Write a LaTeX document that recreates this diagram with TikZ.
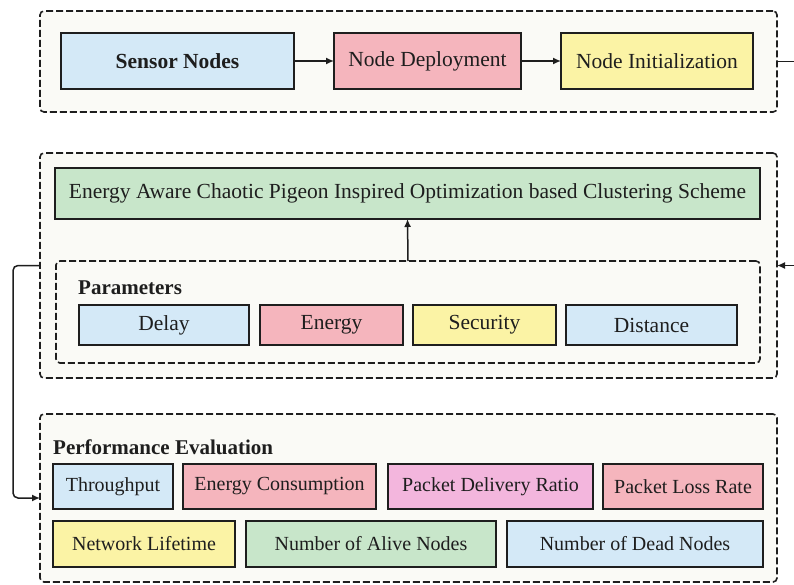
\documentclass[tikz,border=0pt]{standalone}
\usepackage{fontspec}
\setmainfont{Liberation Serif}
\usetikzlibrary{arrows.meta}
\definecolor{cblue}{HTML}{D4E9F7}
\definecolor{cred}{HTML}{F5B5BD}
\definecolor{cyel}{HTML}{FBF3A5}
\definecolor{cgreen}{HTML}{C8E6CA}
\definecolor{cpink}{HTML}{F3B6DD}
\definecolor{cpanel}{HTML}{FAFAF6}
\definecolor{cline}{HTML}{1E1E1E}
\tikzset{
  panel/.style={draw=cline, line width=1.6pt, dash pattern=on 7pt off 3pt, rounded corners=4pt, fill=cpanel, inner sep=0pt, outer sep=0pt},
  box/.style={draw=cline, line width=1.8pt, inner sep=0pt, outer sep=0pt, text=cline, font=\fontsize{21.5}{24}\selectfont},
  sbox/.style={box, font=\fontsize{20}{23}\selectfont},
  head/.style={anchor=west, inner sep=0pt, text=cline, font=\bfseries\fontsize{21}{24}\selectfont},
  conn/.style={draw=cline, line width=1.5pt},
  arr/.style={conn, -{Latex[length=8pt,width=7pt]}}
}
\begin{document}
\begin{tikzpicture}[x=1pt,y=-1pt]
\useasboundingbox (0,0) rectangle (794,584);
\clip (0,0) rectangle (794,584);
\fill[white] (0,0) rectangle (794,584);
% top panel
\node[panel, minimum width=737pt, minimum height=101pt] (toppanel) at (408.5,61.5) {};
\node[box, fill=cblue, minimum width=233pt, minimum height=56pt, font=\bfseries\fontsize{21.5}{24}\selectfont] (sensor) at (177.5,61) {Sensor Nodes};
\node[box, fill=cred, minimum width=187pt, minimum height=56pt] (deploy) at (427.5,61) {Node Deployment};
\node[box, fill=cyel, minimum width=192pt, minimum height=56pt] (init) at (657,61) {Node Initialization};
\draw[arr] (sensor) -- (deploy);
\draw[arr] (deploy) -- (init);
% middle panel
\node[panel, minimum width=737pt, minimum height=225pt] (midpanel) at (408.5,265.5) {};
\node[box, fill=cgreen, minimum width=705pt, minimum height=51pt] (scheme) at (407.5,193.5) {Energy Aware Chaotic Pigeon Inspired Optimization based Clustering Scheme};
\node[panel, minimum width=704pt, minimum height=102pt] (params) at (408,312) {};
\node[head] (paramtitle) at (78,288) {Parameters};
\node[box, fill=cblue, minimum width=170pt, minimum height=40pt] (delay) at (164,325) {Delay};
\node[box, fill=cred, minimum width=143pt, minimum height=40pt] (energy) at (331.5,325) {Energy};
\node[box, fill=cyel, minimum width=143pt, minimum height=40pt] (security) at (484.5,325) {Security};
\node[box, fill=cblue, minimum width=171pt, minimum height=40pt] (distance) at (651.5,325) {Distance};
\draw[arr] (params.north) -- (scheme.south);
% bottom panel
\node[panel, minimum width=737pt, minimum height=168pt] (botpanel) at (408.5,498) {};
\node[head] (perftitle) at (53,447) {Performance Evaluation};
\node[sbox, fill=cblue, minimum width=120pt, minimum height=45pt] (thr) at (113,486.5) {Throughput};
\node[sbox, fill=cred, minimum width=193pt, minimum height=45pt] (econ) at (279.5,486.5) {Energy Consumption};
\node[sbox, fill=cpink, minimum width=205pt, minimum height=45pt] (pdr) at (490.5,486.5) {Packet Delivery Ratio};
\node[sbox, fill=cred, minimum width=160pt, minimum height=45pt] (plr) at (683,486.5) {Packet Loss Rate};
\node[sbox, fill=cyel, minimum width=182pt, minimum height=46pt] (life) at (144,544) {Network Lifetime};
\node[sbox, fill=cgreen, minimum width=250pt, minimum height=46pt] (alive) at (371,544) {Number of Alive Nodes};
\node[sbox, fill=cblue, minimum width=256pt, minimum height=46pt] (dead) at (635,544) {Number of Dead Nodes};
% loops
\draw[arr] (toppanel.east) -- ++(30,0) |- (midpanel.east);
\draw[arr, rounded corners=5pt] (midpanel.west) -- ++(-27,0) |- (botpanel.west);
\end{tikzpicture}
\end{document}
